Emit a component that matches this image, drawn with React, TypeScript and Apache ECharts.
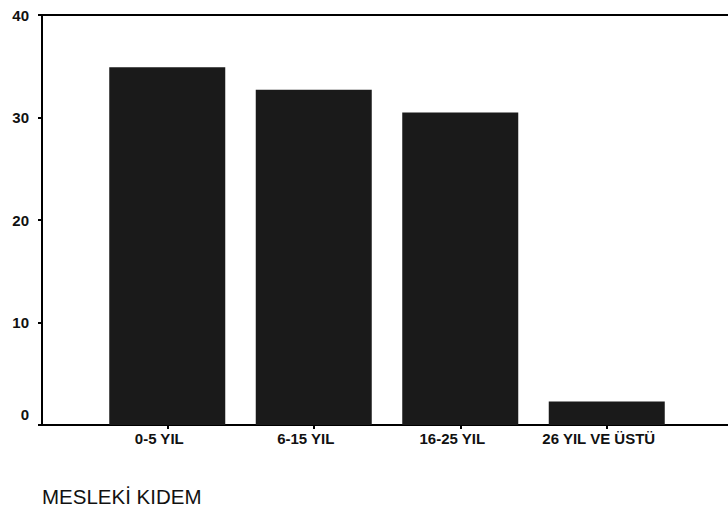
import React, { useEffect, useRef } from "react";
import * as echarts from "echarts";

const categories = ["0-5 YIL", "6-15 YIL", "16-25 YIL", "26 YIL VE ÜSTÜ"];
const values = [34.9, 32.7, 30.5, 2.3];
const yTicks = { min: 0, max: 40, interval: 10 };
const axisTitle = "MESLEKİ KIDEM";

export default function App() {
  const ref = useRef<HTMLDivElement>(null);
  useEffect(() => {
    if (!ref.current) return;
    const chart = echarts.init(ref.current, null, { renderer: "svg" });
    const font = "'Liberation Sans', Arial, sans-serif";
    chart.setOption({
      animation: false,
      backgroundColor: "#ffffff",
      title: {
        text: axisTitle,
        left: 37,
        top: 481,
        textStyle: { fontFamily: font, fontSize: 20.5, fontWeight: "normal", color: "#111" },
      },
      grid: [
        { left: 42, right: 0, top: 15, bottom: 85 },
        { left: 94, right: 48, top: 15, bottom: 85 },
      ],
      xAxis: [
        {
          type: "value",
          gridIndex: 0,
          position: "bottom",
          min: 0,
          max: 1,
          axisLine: { show: true, onZero: false, lineStyle: { color: "#000", width: 2 } },
          axisTick: { show: false },
          axisLabel: { show: false },
          splitLine: { show: false },
        },
        {
          type: "value",
          gridIndex: 0,
          position: "top",
          min: 0,
          max: 1,
          axisLine: { show: true, onZero: false, lineStyle: { color: "#000", width: 2 } },
          axisTick: { show: false },
          axisLabel: { show: false },
          splitLine: { show: false },
        },
        {
          type: "category",
          gridIndex: 1,
          data: categories,
          axisLine: { show: false },
          axisTick: { show: true, alignWithLabel: true, length: 4, lineStyle: { color: "#000", width: 2 } },
          axisLabel: {
            interval: 0,
            hideOverlap: false,
            margin: 6,
            padding: [0, 16, 0, 0],
            fontFamily: font,
            fontSize: 15,
            fontWeight: "bold",
            color: "#111",
          },
        },
      ],
      yAxis: [
        {
          type: "value",
          gridIndex: 0,
          min: yTicks.min,
          max: yTicks.max,
          interval: yTicks.interval,
          axisLine: { show: true, lineStyle: { color: "#000", width: 2 } },
          axisTick: { show: true, length: 4, lineStyle: { color: "#000", width: 2 } },
          axisLabel: {
            margin: 13,
            fontFamily: font,
            fontSize: 15,
            fontWeight: "bold",
            color: "#111",
            formatter: (v: number) => (v === 0 ? "{z|0}" : String(v)),
            rich: {
              z: {
                fontFamily: font,
                fontSize: 15,
                fontWeight: "bold",
                color: "#111",
                padding: [0, 0, 22, 0],
              },
            },
          },
          splitLine: { show: false },
        },
        {
          type: "value",
          gridIndex: 1,
          min: yTicks.min,
          max: yTicks.max,
          interval: yTicks.interval,
          show: false,
          splitLine: { show: false },
        },
      ],
      series: [
        {
          type: "bar",
          xAxisIndex: 2,
          yAxisIndex: 1,
          data: values,
          barWidth: 116,
          itemStyle: { color: "#1a1a1a" },
        },
      ],
    });
    return () => chart.dispose();
  }, []);
  return <div ref={ref} style={{ width: 728, height: 510, position: "absolute", left: 0, top: 0 }} />;
}
